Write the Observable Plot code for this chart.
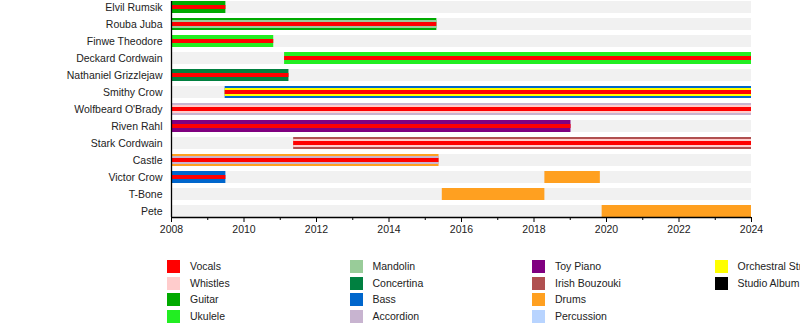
<!DOCTYPE html>
<html><head><meta charset="utf-8">
<script src="https://cdn.jsdelivr.net/npm/d3@7"></script>
<script src="https://cdn.jsdelivr.net/npm/@observablehq/plot@0.6"></script>
<style>
html,body{margin:0;padding:0;background:#fff;overflow:hidden;width:800px;height:336px;}
body{font-family:"Liberation Sans",Arial,sans-serif;}
#legend{position:relative;width:800px;height:91px;}
.sw{position:absolute;width:13px;height:13px;}
.lt{position:absolute;font-size:10.5px;color:#222;white-space:nowrap;line-height:13px;}
</style></head><body><div id="chart"></div><div id="legend"></div>
<script>
const members = ["Elvil Rumsik","Rouba Juba","Finwe Theodore","Deckard Cordwain","Nathaniel Grizzlejaw","Smithy Crow","Wolfbeard O'Brady","Riven Rahl","Stark Cordwain","Castle","Victor Crow","T-Bone","Pete"];
const instruments = ["Vocals","Whistles","Guitar","Ukulele","Mandolin","Concertina","Bass","Accordion","Toy Piano","Irish Bouzouki","Drums","Percussion","Orchestral Strings","Studio Album"];
const instrumentColors = ["#ff0000","#ffcccc","#00aa00","#22ee22","#99cc99","#008040","#0066cc","#c8b4d0","#800080","#b05050","#ffa020","#b8d4ff","#ffff00","#000000"];
const majorYears = [2008,2010,2012,2014,2016,2018,2020,2022,2024];
const minorYears = [2009,2011,2013,2015,2017,2019,2021,2023];
const timelineStart = 2008, timelineEnd = 2024;

const stintMember = ["Elvil Rumsik","Rouba Juba","Finwe Theodore","Deckard Cordwain","Nathaniel Grizzlejaw","Smithy Crow","Wolfbeard O'Brady","Riven Rahl","Stark Cordwain","Castle","Victor Crow","Victor Crow","T-Bone","Pete"];
const stintStart = [2008,2008,2008,2011.12,2008,2009.48,2008,2008,2011.37,2008,2008,2018.3,2015.47,2019.88];
const stintEnd   = [2009.5,2015.32,2010.82,2024,2011.24,2024,2024,2019.02,2024,2015.38,2009.5,2019.83,2018.3,2024];
const stintOuter = ["Guitar","Guitar","Ukulele","Ukulele","Concertina","Bass","Accordion","Toy Piano","Irish Bouzouki","Drums","Bass","Drums","Drums","Drums"];
const stintMiddle = [null,"Mandolin",null,null,null,"Orchestral Strings","Whistles",null,"Whistles","Accordion",null,null,null,null];
const stintInner = ["Vocals","Vocals","Vocals","Vocals","Vocals","Vocals","Vocals","Vocals","Vocals","Vocals","Vocals",null,null,null];

const stints = stintMember.map((m,i)=>({member:m,start:stintStart[i],end:stintEnd[i],outer:stintOuter[i],middle:stintMiddle[i],inner:stintInner[i]}));
const background = members.map(m=>({member:m,start:timelineStart,end:timelineEnd}));

const chart = Plot.plot({
  width: 800, height: 245,
  marginLeft: 171, marginRight: 49, marginTop: 1, marginBottom: 28,
  style: {fontFamily: "'Liberation Sans', Arial, sans-serif", fontSize: "10.5px", color: "#222", background: "#fff"},
  x: {domain: [timelineStart, timelineEnd], label: null},
  y: {domain: members, paddingInner: 5/17, paddingOuter: 0, label: null},
  color: {domain: instruments, range: instrumentColors},
  marks: [
    Plot.barX(background, {x1: "start", x2: "end", y: "member", fill: "#f1f1f1"}),
    Plot.barX(stints, {x1: "start", x2: "end", y: "member", fill: "outer"}),
    Plot.barX(stints.filter(d=>d.middle), {x1: "start", x2: "end", y: "member", fill: "middle", insetTop: 2, insetBottom: 2}),
    Plot.barX(stints.filter(d=>d.inner), {x1: "start", x2: "end", y: "member", fill: "inner", insetTop: 4, insetBottom: 4}),
    Plot.axisY({tickSize: 0, tickPadding: 9, label: null, fill: "#222"}),
    Plot.axisX({ticks: majorYears, tickFormat: d => String(d), tickSize: 5, tickPadding: 3, label: null, stroke: "#000", fill: "#222"}),
    Plot.axisX({ticks: minorYears, tickFormat: () => "", tickSize: 3, label: null, stroke: "#000"}),
    Plot.ruleX([timelineStart], {stroke: "#000", strokeWidth: 1.3}),
    Plot.ruleY([0], {y: () => members[members.length-1], x1: timelineStart, x2: timelineEnd, dy: 6, stroke: "#000", strokeWidth: 1.3})
  ]
});
document.getElementById("chart").appendChild(chart);

const colorScale = chart.scale("color");
const legend = document.getElementById("legend");
const colX = [167, 349.5, 532, 714.5];
const rowY = [15, 31.7, 48.4, 65.1];
instruments.forEach((name,i)=>{
  const c = Math.floor(i/4), r = i%4;
  const sw = document.createElement("div");
  sw.className = "sw";
  sw.style.left = colX[c] + "px";
  sw.style.top = rowY[r] + "px";
  sw.style.background = colorScale.range[colorScale.domain.indexOf(name)];
  legend.appendChild(sw);
  const t = document.createElement("div");
  t.className = "lt";
  t.style.left = (colX[c] + 23) + "px";
  t.style.top = rowY[r] + "px";
  t.textContent = name;
  legend.appendChild(t);
});
</script></body></html>
